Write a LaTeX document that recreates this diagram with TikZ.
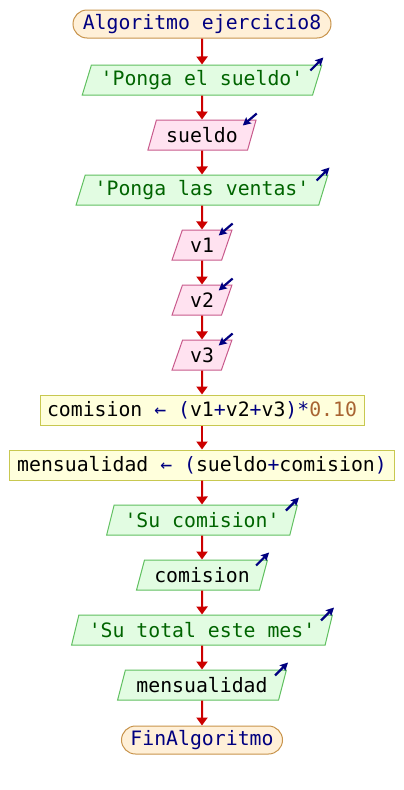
\documentclass[tikz,border=0pt]{standalone}
\usepackage{fontspec}
\setmonofont{DejaVu Sans Mono}
\usetikzlibrary{shapes.geometric,arrows.meta}
\definecolor{termfill}{HTML}{FFF0D8}
\definecolor{termdraw}{HTML}{C8944C}
\definecolor{navy}{HTML}{000080}
\definecolor{outfill}{HTML}{E2FCE2}
\definecolor{outdraw}{HTML}{60C060}
\definecolor{strgreen}{HTML}{006400}
\definecolor{infill}{HTML}{FFE2F0}
\definecolor{indraw}{HTML}{C85A8C}
\definecolor{asgfill}{HTML}{FFFFDC}
\definecolor{asgdraw}{HTML}{C8C850}
\definecolor{numbrown}{HTML}{A86432}
\definecolor{flowred}{HTML}{CC0000}
\tikzset{
  x=1pt, y=1pt,
  base/.style={font=\ttfamily\fontsize{19.8}{22}\selectfont, inner sep=0pt, minimum height=30pt, line width=1pt},
  term/.style={base, rounded corners=14pt, fill=termfill, draw=termdraw, text=navy, minimum height=28pt},
  asg/.style={base, rectangle, fill=asgfill, draw=asgdraw},
  para/.style={base, trapezium, trapezium left angle=66.6, trapezium right angle=113.4, trapezium stretches=true},
  outbox/.style={para, fill=outfill, draw=outdraw},
  inbox/.style={para, fill=infill, draw=indraw},
  flow/.style={draw=flowred, line width=2pt, -{Triangle[length=8pt,width=11pt]}},
  icon/.style={draw=navy, line width=2.2pt, -{Stealth[length=8pt,width=8pt,inset=1.5pt]}}
}
\newcommand{\op}[1]{\textcolor{navy}{#1}}
\begin{document}
\begin{tikzpicture}
\useasboundingbox (0,0) rectangle (404,-790);
\fill[white] (0,0) rectangle (404,-790);
\node[term, minimum width=258pt] (n1) at (202,-24) {Algoritmo ejercicio8};
\node[outbox, minimum width=240pt, text=strgreen] (n2) at (202,-80) {'Ponga el sueldo'};
\node[inbox, minimum width=109pt] (n3) at (202,-135) {sueldo};
\node[outbox, minimum width=252pt, text=strgreen] (n4) at (202,-190) {'Ponga las ventas'};
\node[inbox, minimum width=60pt] (n5) at (202,-245) {v1};
\node[inbox, minimum width=60pt] (n6) at (202,-300) {v2};
\node[inbox, minimum width=60pt] (n7) at (202,-355) {v3};
\node[asg, minimum width=324pt] (n8) at (202,-410) {comision \op{←} \op{(}v1\op{+}v2\op{+}v3\op{)*}\textcolor{numbrown}{0.10}};
\node[asg, minimum width=385pt] (n9) at (202,-465) {mensualidad \op{←} \op{(}sueldo\op{+}comision\op{)}};
\node[outbox, minimum width=191pt, text=strgreen] (n10) at (202,-520) {'Su comision'};
\node[outbox, minimum width=131pt] (n11) at (202,-575) {comision};
\node[outbox, minimum width=261pt, text=strgreen] (n12) at (202,-630) {'Su total este mes'};
\node[outbox, minimum width=169pt] (n13) at (202,-685) {mensualidad};
\node[term, minimum width=161pt] (n14) at (202,-740) {FinAlgoritmo};
\foreach \a/\b in {n1/n2,n2/n3,n3/n4,n4/n5,n5/n6,n6/n7,n7/n8,n8/n9,n9/n10,n10/n11,n11/n12,n12/n13,n13/n14}
  \draw[flow] (\a.south) -- (\b.north);
\foreach \n in {n2,n4,n10,n11,n12,n13}
  \draw[icon] ([shift={(-12,-6)}]\n.top right corner) -- ([shift={(1,7)}]\n.top right corner);
\foreach \n in {n3,n5,n6,n7}
  \draw[icon] ([shift={(0,6)}]\n.top right corner) -- ([shift={(-14,-6)}]\n.top right corner);
\end{tikzpicture}
\end{document}
